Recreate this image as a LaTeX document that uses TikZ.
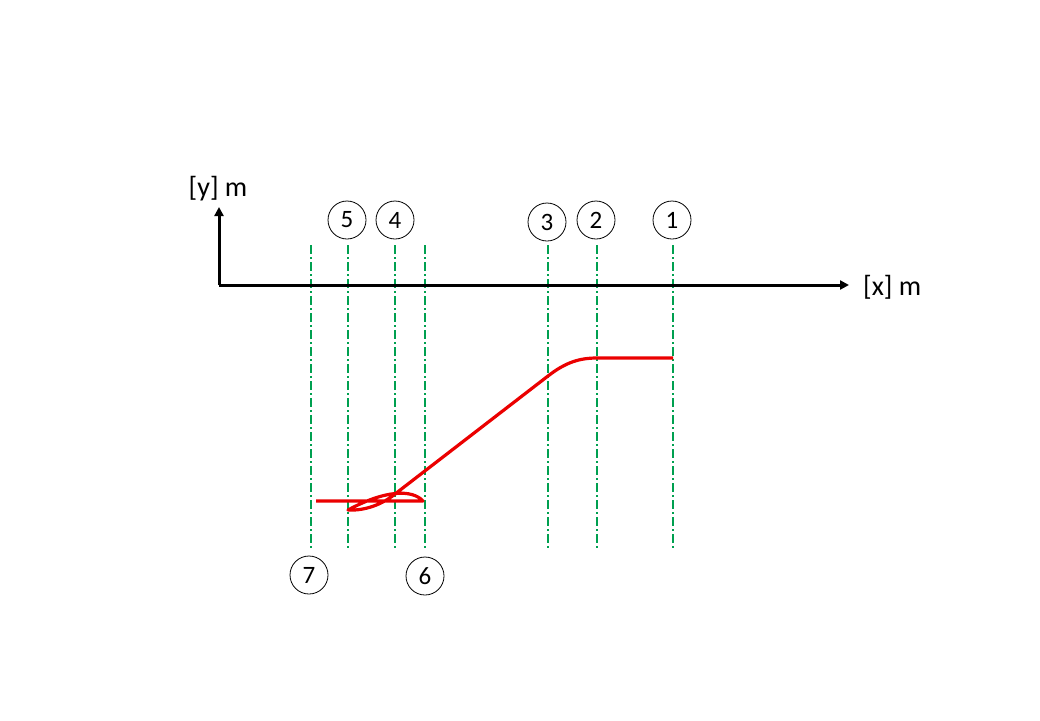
\documentclass[tikz,border=0pt]{standalone}
\usepackage{fontspec}
\setmainfont{Carlito}
\usetikzlibrary{arrows.meta}
\definecolor{gline}{RGB}{0,160,80}
\definecolor{rline}{RGB}{235,0,0}
\tikzset{
  guide/.style={gline, line width=1.7pt, dash pattern=on 9pt off 3pt on 2pt off 3pt},
  marker/.style={circle, draw=black, line width=0.8pt, minimum size=38pt, inner sep=0pt, font=\fontsize{25}{25}\selectfont},
  axis/.style={line width=3pt, -{Triangle[width=9pt,length=9pt]}},
  lbl/.style={font=\fontsize{28}{28}\selectfont, inner sep=0pt},
  curve/.style={rline, line width=3.2pt, line join=round}
}
\begin{document}
\begin{tikzpicture}[x=1pt,y=-1pt]
\useasboundingbox[fill=white] (0,0) rectangle (1040,720);
% guides
\foreach \n/\x in {g7/311,g5/348,g4/395,g6/425,g3/548,g2/597,g1/673}{
  \coordinate (\n t) at (\x,245);
  \coordinate (\n b) at (\x,548);
  \draw[guide] (\n t) -- (\n b);
}
% axes
\coordinate (O) at (219,285);
\coordinate (X) at (849,285);
\coordinate (Y) at (219,207);
\draw[axis] (O) -- (X);
\draw[axis] (O) -- (Y);
\node[lbl, anchor=west] (xl) at (863,287) {[x] m};
\node[lbl] (yl) at (218,189) {[y] m};
% markers
\node[marker] (m5) at (347,220) {5};
\node[marker] (m4) at (395,220) {4};
\node[marker] (m3) at (547,222) {3};
\node[marker] (m2) at (596,220) {2};
\node[marker] (m1) at (672,220) {1};
\node[marker] (m7) at (309,575) {7};
\node[marker] (m6) at (425,576) {6};
% red curve
\draw[curve] (316,501) -- (423,501) .. controls (412,489) and (385,490) .. (348,510)
  .. controls (365,511) and (383,504) .. (395,494) -- (548,376)
  .. controls (566,362) and (580,358) .. (597,358) -- (673,358);
\end{tikzpicture}
\end{document}
